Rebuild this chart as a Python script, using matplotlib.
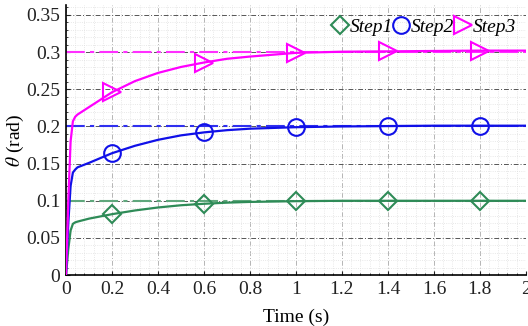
import matplotlib
matplotlib.use("Agg")
import matplotlib.pyplot as plt
from matplotlib.lines import Line2D
from matplotlib.ticker import MultipleLocator

plt.rcParams['font.family'] = ['Liberation Serif', 'DejaVu Serif']
plt.rcParams['mathtext.fontset'] = 'stix'

# Data
t = [0, 0.01, 0.02, 0.03, 0.04, 0.05, 0.1, 0.2, 0.3, 0.4, 0.5, 0.6, 0.7, 0.8,
     1.0, 1.2, 1.4, 1.6, 1.8, 2.0]
step1 = [0, 0.035, 0.06, 0.069, 0.071, 0.072, 0.076, 0.082, 0.087, 0.091, 0.094,
         0.096, 0.0975, 0.0985, 0.0995, 0.1, 0.1, 0.1, 0.1, 0.1]
step2 = [0, 0.07, 0.12, 0.138, 0.142, 0.145, 0.151, 0.164, 0.174, 0.182, 0.188,
         0.192, 0.195, 0.197, 0.199, 0.2, 0.2005, 0.201, 0.201, 0.201]
step3 = [0, 0.10, 0.18, 0.207, 0.213, 0.216, 0.226, 0.246, 0.261, 0.272, 0.280,
         0.286, 0.291, 0.294, 0.299, 0.3005, 0.301, 0.3015, 0.302, 0.302]
refs = [0.1, 0.2, 0.3]
labels = ['Step1', 'Step2', 'Step3']
marker_idx = [7, 11, 14, 16, 18]

colors = ['#2E8B57', '#1010E8', '#FF00FF']
ref_colors = ['#5FA77C', '#3030F0', '#FF30FF']
markers = ['D', 'o', '>']
msizes = [11, 12, 13]

fig = plt.figure(figsize=(5.28, 3.26), dpi=100)
ax = fig.add_axes([0.125, 0.156, 0.871, 0.829])

for r, rc in zip(refs, ref_colors):
    ax.axhline(r, color=rc, lw=1.5, linestyle=(0, (9, 2.5, 2, 2.5)), zorder=2)

for y, c, m, ms in zip([step1, step2, step3], colors, markers, msizes):
    ms_ = ms * (0.8 if m == 'D' else 1.0)
    ax.plot(t, y, color=c, lw=1.6, marker=m, markevery=marker_idx,
            markersize=ms_, markerfacecolor='none', markeredgewidth=1.5, zorder=3)

ax.set_xlim(0, 2)
ax.set_ylim(0, 0.3635)
ax.xaxis.set_minor_locator(MultipleLocator(0.04))
ax.yaxis.set_minor_locator(MultipleLocator(0.01))
ax.set_xticks([0, 0.2, 0.4, 0.6, 0.8, 1.0, 1.2, 1.4, 1.6, 1.8, 2.0])
ax.set_xticklabels(['0', '0.2', '0.4', '0.6', '0.8', '1', '1.2', '1.4', '1.6', '1.8', '2'])
ax.set_yticks([0, 0.05, 0.1, 0.15, 0.2, 0.25, 0.3, 0.35])
ax.set_yticklabels(['0', '0.05', '0.1', '0.15', '0.2', '0.25', '0.3', '0.35'])

ax.grid(which='minor', color='#e0e0e0', linestyle=':', lw=0.6)
ax.yaxis.grid(which='major', color='#555555', linestyle=(0, (5, 2, 1, 2)), lw=0.7)
ax.xaxis.grid(which='major', color='#b5b5b5', linestyle=(0, (5, 2, 1, 2)), lw=0.7)
ax.set_axisbelow(True)

for s in ['top', 'right']:
    ax.spines[s].set_visible(False)
ax.spines['left'].set_linewidth(1.2)
ax.spines['bottom'].set_linewidth(1.2)
ax.tick_params(which='both', direction='in', labelsize=14, colors='#222222')
ax.tick_params(which='major', length=3, pad=4)
ax.tick_params(which='minor', length=1.5)

ax.set_xlabel('Time (s)', fontsize=14, labelpad=8)
ax.set_ylabel(r'$\theta$ (rad)', fontsize=14, labelpad=0)

handles = [Line2D([], [], color=c, marker=m, linestyle='none',
                  markersize=(ms * (0.8 if m == 'D' else 1.0)),
                  markerfacecolor='none', markeredgewidth=1.5)
           for c, m, ms in zip(colors, markers, msizes)]
leg = ax.legend(handles, labels, loc='upper right', ncol=3, frameon=False,
                prop={'family': 'Liberation Serif', 'style': 'italic', 'size': 14},
                handlelength=0.8, handletextpad=0.1, columnspacing=0.05,
                borderaxespad=0.1, bbox_to_anchor=(1.0, 0.985))

fig.savefig('out.png', dpi=100)
